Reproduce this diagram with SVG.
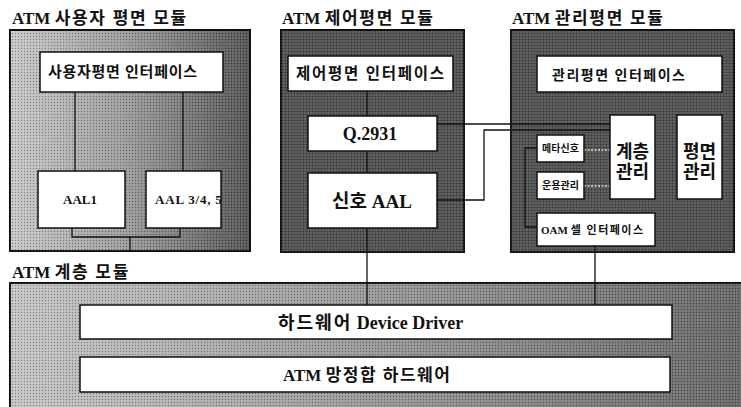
<svg xmlns="http://www.w3.org/2000/svg" width="741" height="407" viewBox="0 0 741 407">
<defs>
<linearGradient id="gUser" x1="0" y1="0" x2="1" y2="0">
<stop offset="0" stop-color="#c8c8c8"/><stop offset="0.5" stop-color="#9a9a9a"/><stop offset="1" stop-color="#555"/>
</linearGradient>
<linearGradient id="gLayer" x1="0" y1="0" x2="1" y2="0">
<stop offset="0" stop-color="#c4c4c4"/><stop offset="0.45" stop-color="#9c9c9c"/><stop offset="1" stop-color="#666"/>
</linearGradient>
<pattern id="dots" width="3" height="3" patternUnits="userSpaceOnUse">
<rect x="0" y="0" width="1" height="1" fill="#000" opacity="0.35"/>
<rect x="1.5" y="1.5" width="1" height="1" fill="#fff" opacity="0.35"/>
</pattern>
<clipPath id="clip345"><rect x="146" y="171" width="75" height="57"/></clipPath>
</defs>
<style>
.mod{stroke:#111;stroke-width:2}
.box{fill:#fff;stroke:#111;stroke-width:1.5}
.t{font-family:"Liberation Serif","Noto Sans CJK KR",serif;font-weight:bold;fill:#111}
.title{font-size:17px}
.ko{letter-spacing:1.7px}
.c{text-anchor:middle}
.ln{fill:none;stroke:#111;stroke-width:1.3}
.dot{fill:none;stroke:#ddd;stroke-width:1.5;stroke-dasharray:2 1.5}
</style>

<g id="user-module">
<text class="t title" x="12" y="24">ATM <tspan class="ko">사용자 평면 모듈</tspan></text>
<rect class="mod" x="10" y="30" width="240" height="221" fill="url(#gUser)"/>
<rect x="10" y="30" width="240" height="221" fill="url(#dots)"/>
</g>
<g id="control-module">
<text class="t title" x="282" y="24">ATM <tspan class="ko">제어평면 모듈</tspan></text>
<rect class="mod" x="281" y="30" width="183" height="222" fill="#505050"/>
<rect x="281" y="30" width="183" height="222" fill="url(#dots)"/>
</g>
<g id="mgmt-module">
<text class="t title" x="512" y="24">ATM <tspan class="ko">관리평면 모듈</tspan></text>
<rect class="mod" x="511" y="30" width="223" height="222" fill="#505050"/>
<rect x="511" y="30" width="223" height="222" fill="url(#dots)"/>
</g>
<g id="layer-module">
<text class="t title" x="12" y="278">ATM <tspan class="ko">계층 모듈</tspan></text>
<rect class="mod" x="10" y="283" width="740" height="130" fill="url(#gLayer)"/>
<rect x="10" y="283" width="740" height="130" fill="url(#dots)"/>
</g>

<g id="connectors">
<path class="ln" d="M75 92V171M183 92V171"/>
<path class="ln" d="M72 228V237H180V228M130 237V251"/>
<path class="ln" d="M367 91V116" stroke="#333"/>
<path class="ln" d="M367 151V173" stroke="#333"/>
<path class="ln" d="M367 228V305"/>
<path class="ln" d="M595 246V305"/>
<path class="ln" d="M437 124H610"/>
<path class="ln" d="M437 200H484V130H610"/>
<path class="ln" d="M537 148H525V227H537" stroke-width="2"/>
<path class="dot" d="M584 150H610M584 186H610"/>
</g>

<g id="user-interface"><rect class="box" x="40" y="52" width="183" height="40"/><text class="t" x="48" y="77" font-size="15" textLength="149" lengthAdjust="spacing">사용자평면 인터페이스</text></g>
<g id="aal1"><rect class="box" x="38" y="171" width="87" height="57"/><text class="t c" x="80" y="204" font-size="13">AAL1</text></g>
<g id="aal345"><rect class="box" x="146" y="171" width="75" height="57"/><text class="t" x="155" y="204" font-size="13" letter-spacing="0.8" clip-path="url(#clip345)">AAL 3/4, 5</text></g>

<g id="control-interface"><rect class="box" x="288" y="56" width="165" height="35"/><text class="t" x="296" y="79" font-size="15.5" textLength="148" lengthAdjust="spacing">제어평면 인터페이스</text></g>
<g id="q2931"><rect class="box" x="308" y="116" width="129" height="35"/><text class="t c" x="370" y="140" font-size="18">Q.2931</text></g>
<g id="signal-aal"><rect class="box" x="308" y="173" width="129" height="55"/><text class="t c" x="372" y="208" font-size="19">신호 AAL</text></g>

<g id="mgmt-interface"><rect class="box" x="537" y="56" width="185" height="36"/><text class="t" x="552" y="80" font-size="14" textLength="133" lengthAdjust="spacing">관리평면 인터페이스</text></g>
<g id="layer-mgmt"><rect class="box" x="610" y="115" width="45" height="84"/><text class="t c" x="632.5" y="158" font-size="18">계층</text><text class="t c" x="632.5" y="178" font-size="18">관리</text></g>
<g id="plane-mgmt"><rect class="box" x="677" y="115" width="45" height="84"/><text class="t c" x="699.5" y="158" font-size="18">평면</text><text class="t c" x="699.5" y="178" font-size="18">관리</text></g>
<g id="meta-signal"><rect class="box" x="537" y="135" width="47" height="27"/><text class="t c" x="560.5" y="152" font-size="10">메타신호</text></g>
<g id="ops-mgmt"><rect class="box" x="537" y="172" width="47" height="27"/><text class="t c" x="560.5" y="189" font-size="10">운용관리</text></g>
<g id="oam-interface"><rect class="box" x="537" y="213" width="118" height="33"/><text class="t" x="541" y="234" font-size="11">OAM <tspan letter-spacing="1.5">셀 인터페이스</tspan></text></g>

<g id="device-driver"><rect class="box" x="80" y="305" width="592" height="34"/><text class="t" x="278" y="329" font-size="18"><tspan letter-spacing="2">하드웨어</tspan> Device Driver</text></g>
<g id="network-hw"><rect class="box" x="80" y="357" width="590" height="35"/><text class="t" x="283" y="381" font-size="17">ATM <tspan letter-spacing="1.5">망정합 하드웨어</tspan></text></g>
</svg>
